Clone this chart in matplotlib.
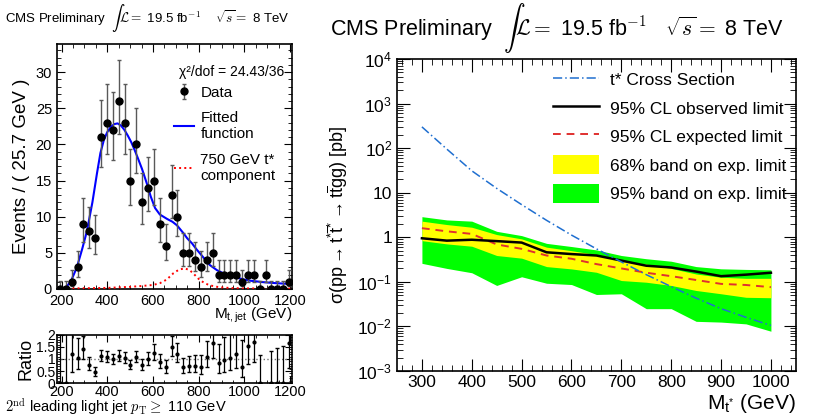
import numpy as np
import matplotlib
matplotlib.use('Agg')
import matplotlib.pyplot as plt
from matplotlib.patches import Patch
from matplotlib.ticker import MultipleLocator, LogLocator, FuncFormatter, NullFormatter

plt.rcParams['font.family'] = ['Liberation Sans', 'DejaVu Sans']
plt.rcParams['mathtext.fontset'] = 'custom'
plt.rcParams['mathtext.rm'] = 'Liberation Sans'
plt.rcParams['mathtext.it'] = 'Liberation Sans:italic'
plt.rcParams['mathtext.bf'] = 'Liberation Sans:bold'

# ---- left panel: M_t,jet fit ----
bin_width = 25.7
x_low = 180
counts = [0, 0, 1, 3, 9, 8, 7, 21, 23, 22, 26, 23, 15, 20, 12, 14, 15, 9, 6, 13,
          10, 5, 5, 4, 3, 4, 5, 2, 2, 2, 2, 1, 2, 2, 0, 2, 0, 0, 0, 1]
ratio = [0, 0, 1.2, 1.05, 1.42, 0.75, 0.45, 1.12, 1.07, 0.98, 1.13, 1.05, 0.75, 1.08,
         0.75, 1.0, 1.25, 0.88, 0.65, 1.5, 1.22, 0.66, 0.72, 0.72, 0.66, 1.07, 1.65,
         0.82, 0.95, 1.05, 1.22, 0.68, 1.55, 1.72, 0, np.nan, 0, 0, 0, 1.65]

fit_x = [180, 200, 215, 240, 267, 290, 311, 335, 355, 370, 385, 400, 415, 430, 445,
         460, 475, 490, 505, 520, 535, 552, 574, 590, 609, 630, 661, 685, 705, 731,
         750, 771, 790, 806, 830, 849, 880, 906, 950, 1000, 1024, 1080, 1140, 1208]
fit_y = [0, 0, 0.1, 1.0, 3.0, 5.5, 8.0, 12.0, 16.0, 18.8, 20.6, 21.7, 22.4, 22.8, 22.9,
         22.6, 22.0, 21.2, 20.3, 19.2, 18.0, 16.6, 14.5, 12.8, 11.2, 10.3, 9.7, 9.3, 8.8,
         7.8, 7.0, 6.3, 5.5, 4.9, 4.0, 3.3, 2.6, 2.2, 1.7, 1.3, 1.15, 0.95, 0.8, 0.68]

sig_x = [180, 400, 500, 545, 600, 630, 660, 690, 715, 740, 760, 775, 790, 806, 830,
         849, 880, 906, 950, 1000, 1208]
sig_y = [0.05, 0.15, 0.3, 0.4, 0.55, 0.8, 1.3, 2.2, 2.7, 2.85, 2.6, 2.2, 1.7, 1.2, 0.75,
         0.5, 0.3, 0.2, 0.12, 0.08, 0.05]

# ---- right panel: limits ----
mass = [300, 350, 400, 450, 500, 550, 600, 650, 700, 750, 800, 850, 900, 950, 1000]
xsec = [300, 95, 31, 12.5, 5.4, 2.4, 1.12, 0.55, 0.28, 0.145, 0.078, 0.043, 0.025, 0.016, 0.0105]
obs = [0.95, 0.84, 0.88, 0.82, 0.76, 0.46, 0.42, 0.39, 0.30, 0.23, 0.21, 0.17, 0.134, 0.145, 0.16]
exp = [1.6, 1.36, 1.19, 0.69, 0.55, 0.39, 0.33, 0.25, 0.2, 0.16, 0.134, 0.11, 0.09, 0.085, 0.076]
band68_lo = [0.84, 0.71, 0.63, 0.39, 0.34, 0.22, 0.195, 0.164, 0.107, 0.098, 0.083, 0.064, 0.054, 0.045, 0.044]
band68_hi = [2.3, 1.93, 1.68, 1.15, 0.92, 0.6, 0.5, 0.41, 0.3, 0.25, 0.2, 0.15, 0.127, 0.12, 0.12]
band95_lo = [0.26, 0.2, 0.16, 0.083, 0.13, 0.093, 0.087, 0.052, 0.054, 0.025, 0.025, 0.013, 0.0125, 0.0114, 0.0078]
band95_hi = [2.9, 2.45, 2.3, 1.36, 1.09, 0.73, 0.62, 0.52, 0.39, 0.33, 0.29, 0.22, 0.196, 0.19, 0.186]

counts = np.array(counts, dtype=float)
ratio = np.array(ratio, dtype=float)
centers = x_low + bin_width * (np.arange(len(counts)) + 0.5)
x_high = x_low + bin_width * len(counts)

# asymmetric poisson errors
err_up = np.where(counts > 0, np.sqrt(counts + 0.25) + 0.5, 1.15)
err_lo = np.where(counts > 0, np.sqrt(counts + 0.25) - 0.5, 0.0)

fit_at = np.maximum(np.interp(centers, fit_x, fit_y), 0.05)
safe_n = np.where(counts > 0, counts, 1)
r_up = np.where(counts > 0, ratio * err_up / safe_n, 1.15 / fit_at)
r_lo = np.where(counts > 0, ratio * err_lo / safe_n, 0.0)

fig = plt.figure(figsize=(8.14, 4.19), dpi=100)
ax1 = fig.add_axes([0.070, 0.3103, 0.2887, 0.585])
ax2 = fig.add_axes([0.070, 0.0859, 0.2887, 0.1146])
ax3 = fig.add_axes([0.4877, 0.1146, 0.490, 0.7446])

# main fit panel
data_h = ax1.errorbar(centers, counts, yerr=[err_lo, err_up], fmt='o', color='black',
                      ms=5, ecolor='0.35', elinewidth=1, capsize=1.5, zorder=4)
fit_h, = ax1.plot(fit_x, fit_y, color='#0000ff', lw=1.5, zorder=3)
sig_h, = ax1.plot(sig_x, sig_y, color='#ff0000', ls=':', lw=1.4, zorder=3)
ax1.set_xlim(x_low, x_high)
ax1.set_ylim(0, 33.9)
ax1.xaxis.set_major_locator(MultipleLocator(200))
ax1.xaxis.set_minor_locator(MultipleLocator(50))
ax1.yaxis.set_major_locator(MultipleLocator(5))
ax1.yaxis.set_minor_locator(MultipleLocator(1))
ax1.tick_params(which='both', direction='in', top=True, right=True, labelsize=10.5)
ax1.tick_params(which='major', length=6)
ax1.tick_params(which='minor', length=3)
ax1.set_ylabel('Events / ( 25.7 GeV )', fontsize=13.5, labelpad=4)
ax1.text(1.0, -0.07, r'M$_{\rm t,jet}$ (GeV)', transform=ax1.transAxes,
         ha='right', va='top', fontsize=11)
ax1.text(0.965, 0.885, 'χ²/dof = 24.43/36', transform=ax1.transAxes,
         ha='right', va='center', fontsize=10)
ax1.legend([data_h, fit_h, sig_h], ['Data', 'Fitted\nfunction', '750 GeV t*\ncomponent'],
           loc='upper left', bbox_to_anchor=(0.5, 0.83), frameon=False, fontsize=11,
           handlelength=1.3, handletextpad=0.4, labelspacing=0.75,
           borderpad=0, borderaxespad=0)

# ratio panel
ax2.axhline(1, color='0.45', ls=':', lw=1)
ax2.errorbar(centers, ratio, yerr=[r_lo, r_up], fmt='o', color='black', ms=2,
             ecolor='black', elinewidth=0.9, capsize=1.5)
ax2.set_xlim(x_low, x_high)
ax2.set_ylim(0, 2)
ax2.xaxis.set_major_locator(MultipleLocator(200))
ax2.xaxis.set_minor_locator(MultipleLocator(50))
ax2.yaxis.set_major_locator(MultipleLocator(0.5))
ax2.yaxis.set_minor_locator(MultipleLocator(0.1))
ax2.yaxis.set_major_formatter(FuncFormatter(lambda v, p: '%g' % v))
ax2.tick_params(which='both', direction='in', top=True, right=True, labelsize=10.5, pad=1.5)
ax2.tick_params(axis='y', labelsize=10, pad=1)
ax2.tick_params(which='major', length=5)
ax2.tick_params(which='minor', length=2.5)
ax2.set_ylabel('Ratio', fontsize=13, labelpad=1)

# limit panel
ax3.fill_between(mass, band95_lo, band95_hi, color='#00ff00', lw=0)
ax3.fill_between(mass, band68_lo, band68_hi, color='#ffff00', lw=0)
exp_h, = ax3.plot(mass, exp, color='#e0302f', lw=1.4, dashes=(4, 3))
obs_h, = ax3.plot(mass, obs, color='black', lw=1.8)
xs_h, = ax3.plot(mass, xsec, color='#1f6fd0', lw=1.1, ls=(0, (6, 2, 1, 2)))
ax3.set_yscale('log')
ax3.set_xlim(250, 1050)
ax3.set_ylim(1e-3, 1e4)
ax3.xaxis.set_major_locator(MultipleLocator(100))
ax3.xaxis.set_minor_locator(MultipleLocator(20))
ax3.yaxis.set_major_locator(LogLocator(base=10, numticks=20))
ax3.yaxis.set_minor_locator(LogLocator(base=10, subs=np.arange(2, 10), numticks=20))
ax3.yaxis.set_minor_formatter(NullFormatter())


def log_label(v, pos):
    e = int(round(np.log10(v)))
    if e == 0:
        return '1'
    if e == 1:
        return '10'
    return r'10$^{%d}$' % e


ax3.yaxis.set_major_formatter(FuncFormatter(log_label))
ax3.tick_params(which='both', direction='in', top=True, right=True, labelsize=12.5)
ax3.tick_params(axis='x', pad=3)
ax3.tick_params(which='major', length=9)
ax3.tick_params(which='minor', length=4.5)
ax3.set_ylabel(r'σ($\mathrm{pp} \rightarrow \mathrm{t}^{*}\overline{\mathrm{t}}^{*} \rightarrow '
               r'\mathrm{t}\overline{\mathrm{t}}\mathrm{gg}$) [pb]',
               fontsize=13, labelpad=5)
ax3.text(1.0, -0.068, r'M$_{\rm t^{*}}$ (GeV)', transform=ax3.transAxes,
         ha='right', va='top', fontsize=15)
ax3.legend([xs_h, obs_h, exp_h, Patch(color='#ffff00', lw=0), Patch(color='#00ff00', lw=0)],
           ['t* Cross Section', '95% CL observed limit', '95% CL expected limit',
            '68% band on exp. limit', '95% band on exp. limit'],
           loc='upper left', bbox_to_anchor=(0.39, 0.965), frameon=False, fontsize=12.5,
           handlelength=2.7, handleheight=1.3, labelspacing=0.55, handletextpad=0.6,
           borderpad=0, borderaxespad=0)

for ax in (ax1, ax2, ax3):
    for s in ax.spines.values():
        s.set_linewidth(1.2)

fig.text(0.006, 0.957, r'CMS Preliminary  $\int\mathcal{L} =$ 19.5 fb$^{-1}$    $\sqrt{s} =$ 8 TeV',
         fontsize=9.5, va='center', math_fontfamily='cm')
fig.text(0.405, 0.933, r'CMS Preliminary  $\int\mathcal{L} =$ 19.5 fb$^{-1}$   $\sqrt{s} =$ 8 TeV',
         fontsize=15.5, va='center', math_fontfamily='cm')
fig.text(0.006, 0.004, r'$2^{\rm nd}$ leading light jet $p_{\rm T} \geq$ 110 GeV',
         fontsize=10.5, va='bottom', math_fontfamily='cm')

fig.savefig('out.png', dpi=100)
